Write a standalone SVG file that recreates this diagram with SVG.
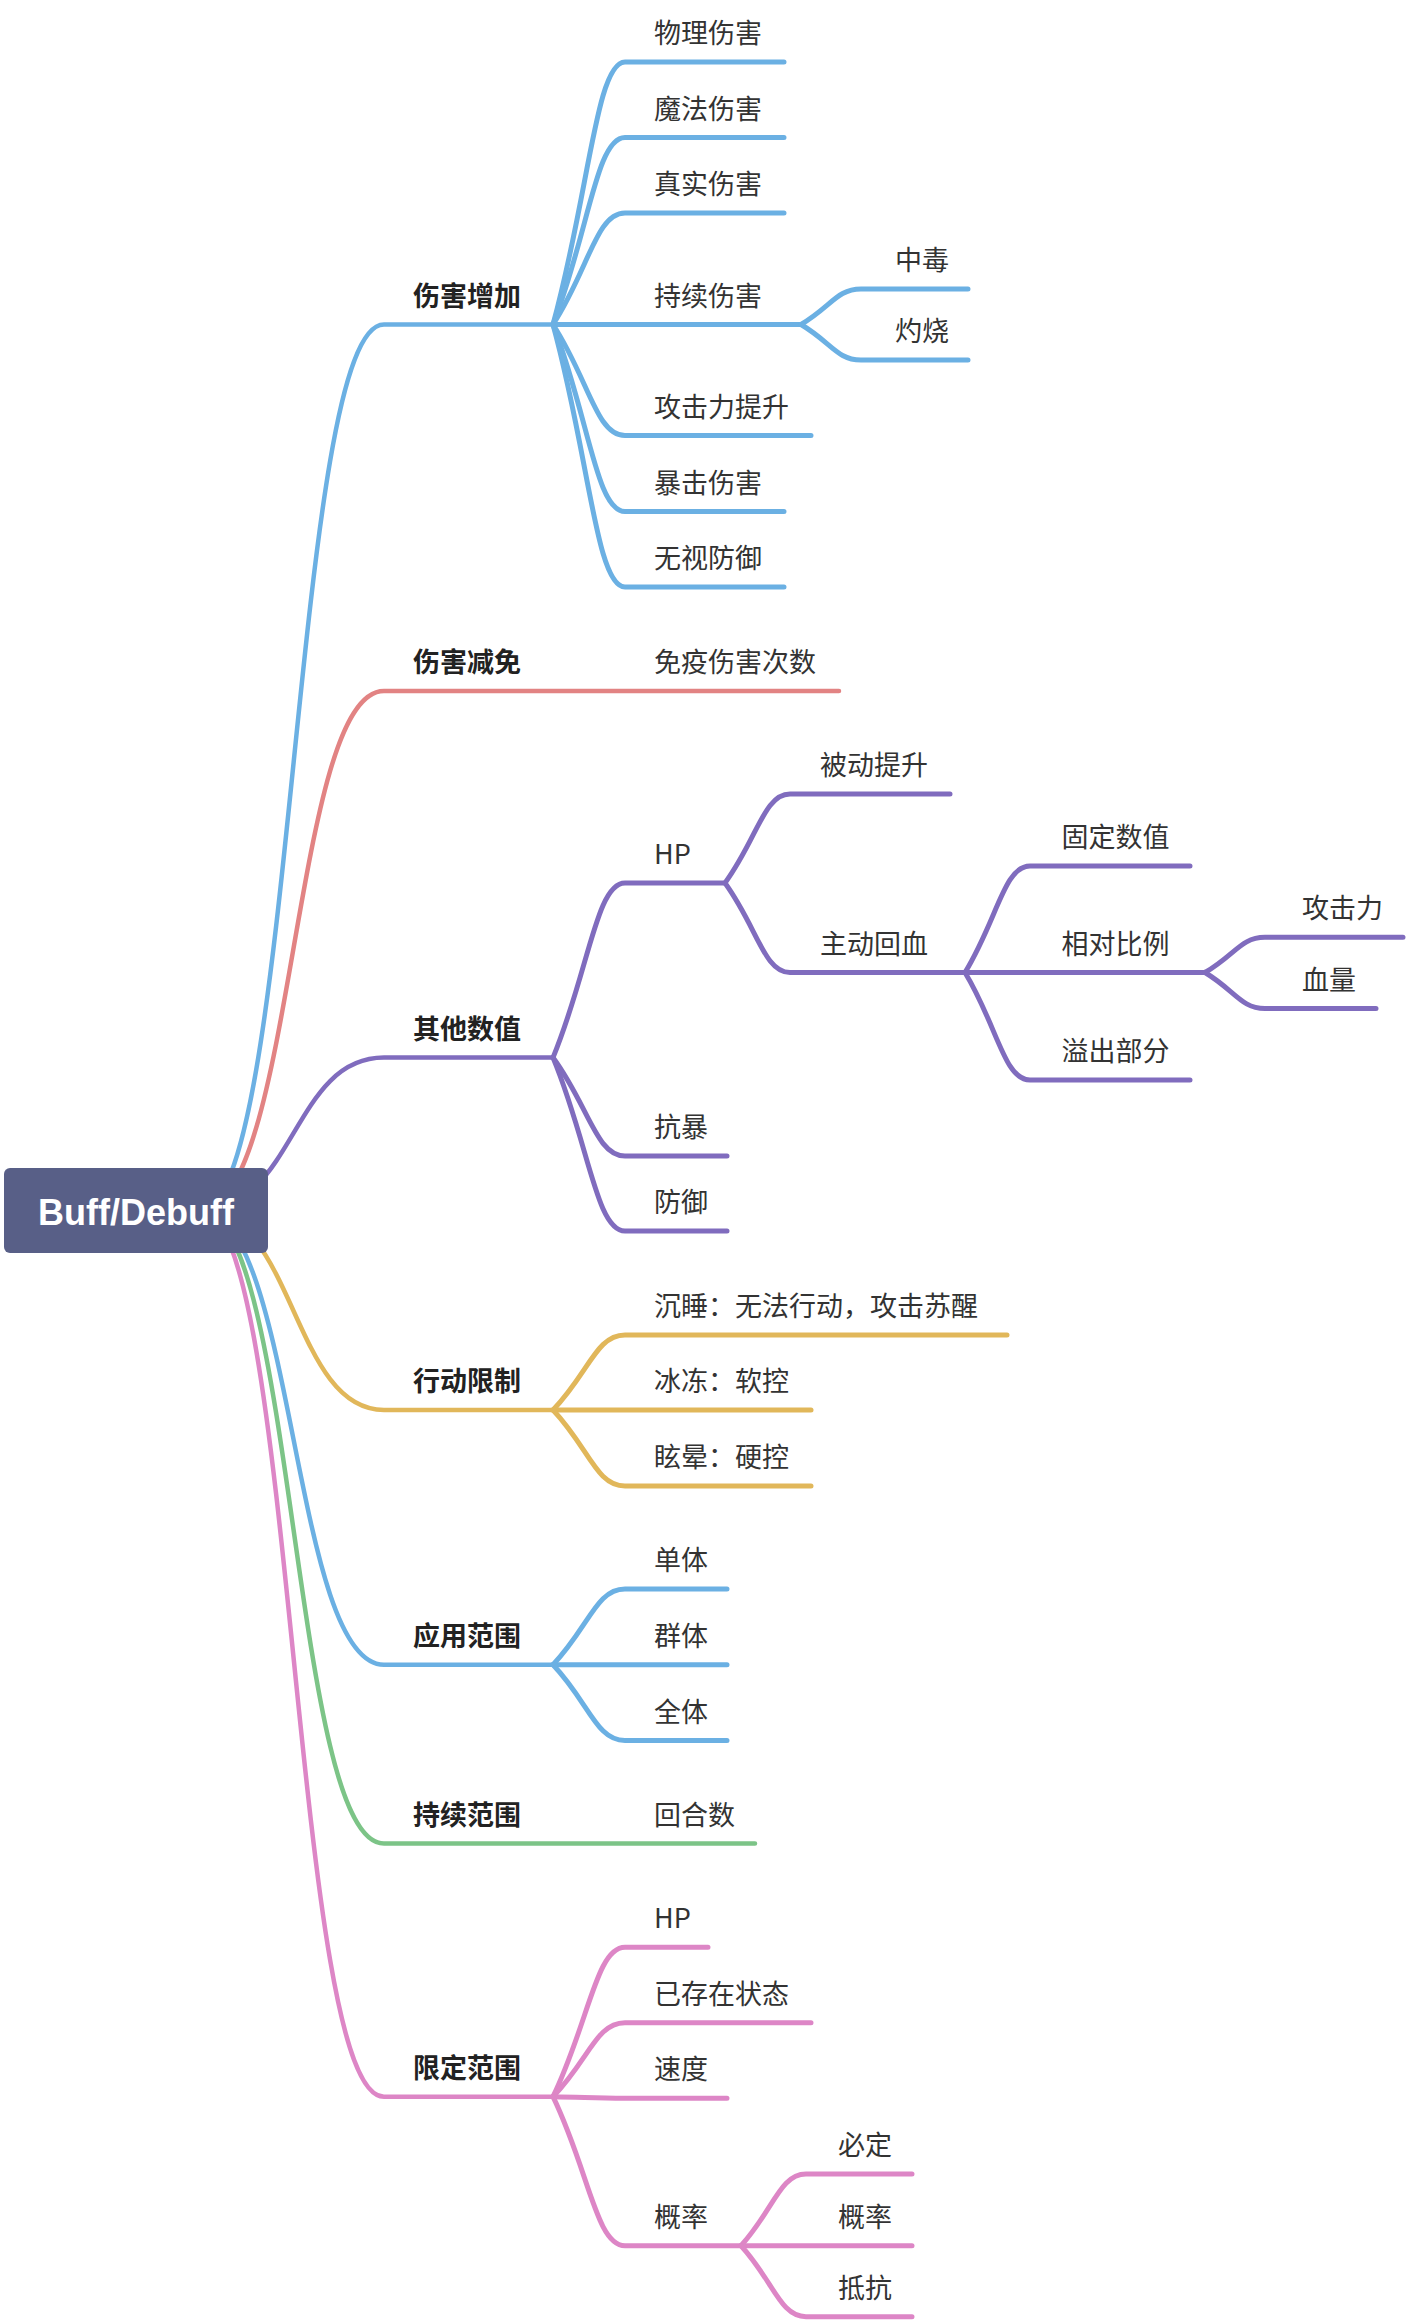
<svg xmlns="http://www.w3.org/2000/svg" width="1406" height="2324" viewBox="0 0 1406 2324">
<style>
.t{font-family:"Noto Sans CJK SC","Liberation Sans",sans-serif;font-size:27px;fill:#333}
.b{font-weight:bold;fill:#222}
.root{font-family:"Liberation Sans","Noto Sans CJK SC",sans-serif;font-size:36px;font-weight:bold;fill:#fff}
.l{fill:none;stroke-width:5;stroke-linecap:round;stroke-linejoin:round}
.r{stroke-width:4.5}
.blue{stroke:#6bb0e3}
.red{stroke:#e28383}
.purple{stroke:#806cbe}
.yellow{stroke:#e1b75a}
.green{stroke:#7cc487}
.pink{stroke:#dd86c6}
</style>
<rect width="1406" height="2324" fill="#fff"/>
<g id="connectors">
  <!-- root to branches -->
  <path class="l r blue" d="M200 1210 C295 1210 292 324.5 384 324.5 H553"/>
  <path class="l r red" d="M200 1210 C295 1210 292 691 384 691 H839"/>
  <path class="l r purple" d="M200 1210 C295 1210 292 1057.6 384 1057.6 H553"/>
  <path class="l r yellow" d="M200 1210 C295 1210 292 1410 384 1410 H553"/>
  <path class="l r blue" d="M200 1210 C295 1210 292 1664.7 384 1664.7 H553"/>
  <path class="l r green" d="M200 1210 C295 1210 292 1843.6 384 1843.6 H755"/>
  <path class="l r pink" d="M200 1210 C295 1210 292 2096.7 384 2096.7 H553"/>
  <!-- 伤害增加 -->
  <path class="l blue" d="M553 324.5 C589 193.25 596.2 62 625 62 H784"/>
  <path class="l blue" d="M553 324.5 C589 231 596.2 137.5 625 137.5 H784"/>
  <path class="l blue" d="M553 324.5 C589 268.75 596.2 213 625 213 H784"/>
  <path class="l blue" d="M553 324.5 H801"/>
  <path class="l blue" d="M553 324.5 C589 380 596.2 435.5 625 435.5 H811"/>
  <path class="l blue" d="M553 324.5 C589 418 596.2 511.5 625 511.5 H784"/>
  <path class="l blue" d="M553 324.5 C589 455.75 596.2 587 625 587 H784"/>
  <path class="l blue" d="M801 324.5 C831 306.75 837 289 861 289 H968"/>
  <path class="l blue" d="M801 324.5 C831 342.25 837 360 861 360 H968"/>
  <!-- 其他数值 -->
  <path class="l purple" d="M553 1057.6 C589 970.3 596.2 883 625 883 H725"/>
  <path class="l purple" d="M553 1057.6 C589 1106.8 596.2 1156 625 1156 H727"/>
  <path class="l purple" d="M553 1057.6 C589 1144.3 596.2 1231 625 1231 H727"/>
  <path class="l purple" d="M725 883 C757.5 838.5 764 794 790 794 H950"/>
  <path class="l purple" d="M725 883 C757.5 927.75 764 972.5 790 972.5 H965"/>
  <path class="l purple" d="M965 972.5 C997.5 919.25 1004 866 1030 866 H1190"/>
  <path class="l purple" d="M965 972.5 H1205"/>
  <path class="l purple" d="M965 972.5 C997.5 1026.25 1004 1080 1030 1080 H1190"/>
  <path class="l purple" d="M1205 972.5 C1235 954.9 1241 937.3 1265 937.3 H1403"/>
  <path class="l purple" d="M1205 972.5 C1235 990.5 1241 1008.5 1265 1008.5 H1376"/>
  <!-- 行动限制 -->
  <path class="l yellow" d="M553 1410 C589 1372.5 596.2 1335 625 1335 H1007"/>
  <path class="l yellow" d="M553 1410 H811"/>
  <path class="l yellow" d="M553 1410 C589 1448 596.2 1486 625 1486 H811"/>
  <!-- 应用范围 -->
  <path class="l blue" d="M553 1664.7 C589 1626.85 596.2 1589 625 1589 H727"/>
  <path class="l blue" d="M553 1664.7 H727"/>
  <path class="l blue" d="M553 1664.7 C589 1702.6 596.2 1740.5 625 1740.5 H727"/>
  <!-- 限定范围 -->
  <path class="l pink" d="M553 2096.7 C589 2022 596.2 1947.3 625 1947.3 H708"/>
  <path class="l pink" d="M553 2096.7 C589 2059.7 596.2 2022.7 625 2022.7 H811"/>
  <path class="l pink" d="M553 2096.7 C589 2097.5 596.2 2098.3 625 2098.3 H727"/>
  <path class="l pink" d="M553 2096.7 C589 2171.2 596.2 2245.7 625 2245.7 H741"/>
  <path class="l pink" d="M741 2245.7 C773.5 2209.85 780 2174 806 2174 H912"/>
  <path class="l pink" d="M741 2245.7 H912"/>
  <path class="l pink" d="M741 2245.7 C773.5 2281.2 780 2316.7 806 2316.7 H912"/>
</g>
<g id="root">
  <rect x="4" y="1168" width="264" height="85" rx="6" fill="#585f87"/>
  <text class="root" x="136" y="1225" text-anchor="middle">Buff/Debuff</text>
</g>
<g id="b1"><text class="t b" x="413" y="305.5">伤害增加</text></g>
<g id="n-wuli"><text class="t" x="654" y="43">物理伤害</text></g>
<g id="n-mofa"><text class="t" x="654" y="118.5">魔法伤害</text></g>
<g id="n-zhenshi"><text class="t" x="654" y="194">真实伤害</text></g>
<g id="n-chixu"><text class="t" x="654" y="305.5">持续伤害</text></g>
<g id="n-zhongdu"><text class="t" x="895" y="270">中毒</text></g>
<g id="n-zhuoshao"><text class="t" x="895" y="341">灼烧</text></g>
<g id="n-gongji"><text class="t" x="654" y="416.5">攻击力提升</text></g>
<g id="n-baoji"><text class="t" x="654" y="492.5">暴击伤害</text></g>
<g id="n-wushi"><text class="t" x="654" y="568">无视防御</text></g>
<g id="b2"><text class="t b" x="413" y="672">伤害减免</text></g>
<g id="n-mianyi"><text class="t" x="654" y="672">免疫伤害次数</text></g>
<g id="b3"><text class="t b" x="413" y="1038.6">其他数值</text></g>
<g id="n-hp"><text class="t" x="654" y="864">HP</text></g>
<g id="n-beidong"><text class="t" x="820" y="775">被动提升</text></g>
<g id="n-zhudong"><text class="t" x="820" y="953.5">主动回血</text></g>
<g id="n-guding"><text class="t" x="1061.5" y="847">固定数值</text></g>
<g id="n-xiangdui"><text class="t" x="1061.5" y="953.5">相对比例</text></g>
<g id="n-gongjili"><text class="t" x="1302" y="918.3">攻击力</text></g>
<g id="n-xueliang"><text class="t" x="1302" y="989.5">血量</text></g>
<g id="n-yichu"><text class="t" x="1061.5" y="1061">溢出部分</text></g>
<g id="n-kangbao"><text class="t" x="654" y="1137">抗暴</text></g>
<g id="n-fangyu"><text class="t" x="654" y="1212">防御</text></g>
<g id="b4"><text class="t b" x="413" y="1391">行动限制</text></g>
<g id="n-chenshui"><text class="t" x="654" y="1316">沉睡：无法行动，攻击苏醒</text></g>
<g id="n-bingdong"><text class="t" x="654" y="1391">冰冻：软控</text></g>
<g id="n-xuanyun"><text class="t" x="654" y="1467">眩晕：硬控</text></g>
<g id="b5"><text class="t b" x="413" y="1645.7">应用范围</text></g>
<g id="n-danti"><text class="t" x="654" y="1570">单体</text></g>
<g id="n-qunti"><text class="t" x="654" y="1645.7">群体</text></g>
<g id="n-quanti"><text class="t" x="654" y="1721.5">全体</text></g>
<g id="b6"><text class="t b" x="413" y="1824.6">持续范围</text></g>
<g id="n-huihe"><text class="t" x="654" y="1824.6">回合数</text></g>
<g id="b7"><text class="t b" x="413" y="2077.7">限定范围</text></g>
<g id="n-hp2"><text class="t" x="654" y="1928.3">HP</text></g>
<g id="n-yicunzai"><text class="t" x="654" y="2003.7">已存在状态</text></g>
<g id="n-sudu"><text class="t" x="654" y="2079.3">速度</text></g>
<g id="n-gailv"><text class="t" x="654" y="2226.7">概率</text></g>
<g id="n-biding"><text class="t" x="838" y="2155">必定</text></g>
<g id="n-gailv2"><text class="t" x="838" y="2226.7">概率</text></g>
<g id="n-dikang"><text class="t" x="838" y="2297.7">抵抗</text></g>
</svg>
